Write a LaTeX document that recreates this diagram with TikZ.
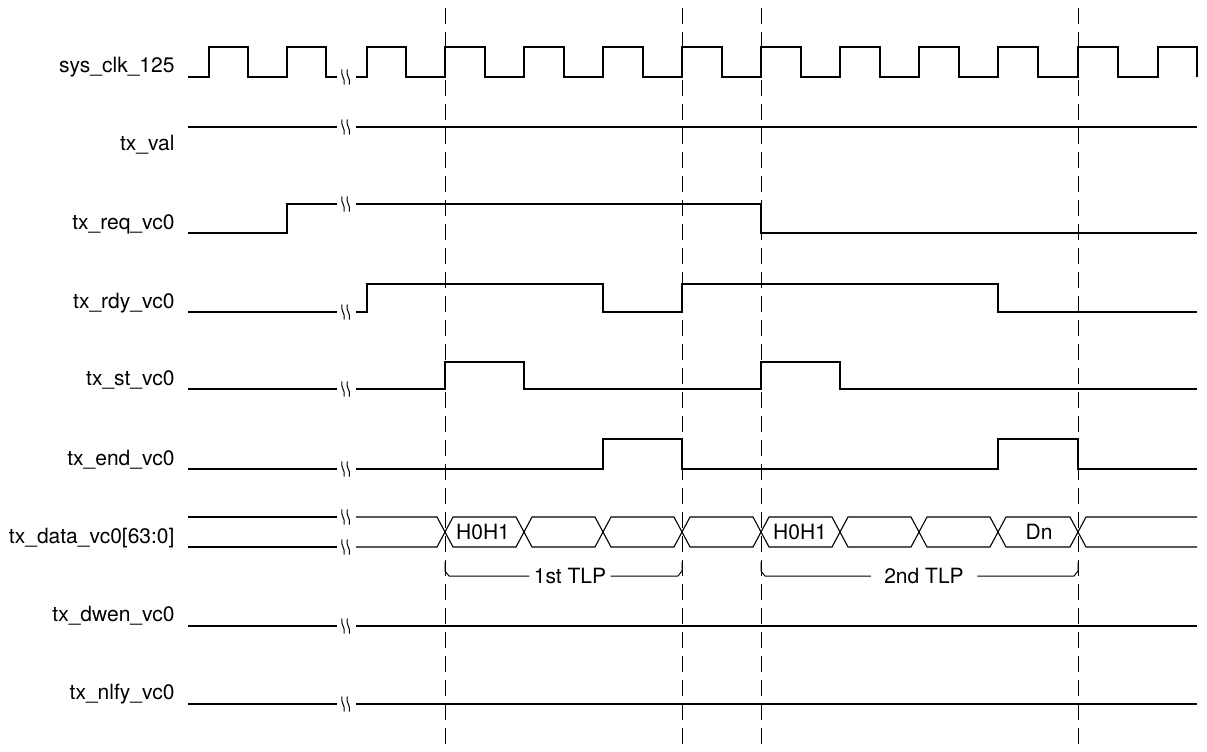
\documentclass[tikz,border=0pt]{standalone}
\usepackage{fontspec}
\setmainfont{TeX Gyre Heros}
\usepackage{tikz}
\usetikzlibrary{positioning}
\newcommand{\brkmark}[2]{%
\draw[line width=1pt] (#1-2,#2-7.5) .. controls (#1-3.8,#2-1) and (#1+1.8,#2+1) .. (#1,#2+7.5);
\draw[line width=1pt] (#1+3.3,#2-7.5) .. controls (#1+1.5,#2-1) and (#1+7.1,#2+1) .. (#1+5.3,#2+7.5);}
\begin{document}
\begin{tikzpicture}[x=1pt,y=-1pt,line width=1.1pt,
  lbl/.style={anchor=base east,inner sep=0pt,font=\fontsize{21}{24}\selectfont},
  txt/.style={inner sep=4pt,font=\fontsize{21}{24}\selectfont},
  cut/.style={dash pattern=on 16pt off 8pt,line width=0.9pt}]
\useasboundingbox (0,0) rectangle (1207,752);
\node[lbl] (lclk) at (175,73) {sys\_clk\_125};
\node[lbl] (lval) at (175,150) {tx\_val};
\node[lbl] (lreq) at (175,229) {tx\_req\_vc0};
\node[lbl] (lrdy) at (175,308) {tx\_rdy\_vc0};
\node[lbl] (lst) at (175,385) {tx\_st\_vc0};
\node[lbl] (lend) at (175,465) {tx\_end\_vc0};
\node[lbl] (ldata) at (175,543) {tx\_data\_vc0[63:0]};
\node[lbl] (ldwen) at (175,621) {tx\_dwen\_vc0};
\node[lbl] (lnlfy) at (175,699) {tx\_nlfy\_vc0};
\draw (188,77) -- (209,77) -- (209,47) -- (248,47) -- (248,77) -- (287,77) -- (287,47) -- (326,47) -- (326,77) -- (337,77);
\draw (356,77) -- (367,77) -- (367,47) -- (406,47) -- (406,77) -- (445,77) -- (445,47) -- (485,47) -- (485,77)
  -- (524,77) -- (524,47) -- (564,47) -- (564,77) -- (603,77) -- (603,47) -- (643,47) -- (643,77)
  -- (682,77) -- (682,47) -- (722,47) -- (722,77) -- (761,77) -- (761,47) -- (801,47) -- (801,77)
  -- (840,77) -- (840,47) -- (880,47) -- (880,77) -- (919,77) -- (919,47) -- (959,47) -- (959,77)
  -- (998,77) -- (998,47) -- (1038,47) -- (1038,77) -- (1078,77) -- (1078,47) -- (1118,47) -- (1118,77)
  -- (1158,77) -- (1158,47) -- (1197,47) -- (1197,77);
\draw (188,127) -- (337,127);
\draw (356,127) -- (1197,127);
\draw (188,233) -- (287,233) -- (287,204) -- (337,204);
\draw (356,204) -- (761,204) -- (761,233) -- (1197,233);
\draw (188,312) -- (337,312);
\draw (356,312) -- (367,312) -- (367,284) -- (603,284) -- (603,312) -- (682,312) -- (682,284) -- (998,284) -- (998,312) -- (1197,312);
\draw (188,389) -- (337,389);
\draw (356,389) -- (445,389) -- (445,362) -- (524,362) -- (524,389) -- (761,389) -- (761,362) -- (840,362) -- (840,389) -- (1197,389);
\draw (188,469) -- (337,469);
\draw (356,469) -- (603,469) -- (603,439) -- (682,439) -- (682,469) -- (998,469) -- (998,439) -- (1078,439) -- (1078,469) -- (1197,469);
\draw (188,517) -- (337,517);
\draw (188,547) -- (337,547);
\draw (356,517) -- (437,517) -- (453,547) -- (516,547) -- (532,517) -- (595,517) -- (611,547) -- (674,547) -- (690,517)
  -- (753,517) -- (769,547) -- (832,547) -- (848,517) -- (911,517) -- (927,547) -- (990,547) -- (1006,517)
  -- (1070,517) -- (1086,547) -- (1197,547);
\draw (356,547) -- (437,547) -- (453,517) -- (516,517) -- (532,547) -- (595,547) -- (611,517) -- (674,517) -- (690,547)
  -- (753,547) -- (769,517) -- (832,517) -- (848,547) -- (911,547) -- (927,517) -- (990,517) -- (1006,547)
  -- (1070,547) -- (1086,517) -- (1197,517);
\draw (188,626) -- (337,626);
\draw (356,626) -- (1197,626);
\draw (188,704) -- (337,704);
\draw (356,704) -- (1197,704);
\brkmark{344}{77}
\brkmark{344}{127}
\brkmark{344}{204}
\brkmark{344}{312}
\brkmark{344}{389}
\brkmark{344}{469}
\brkmark{344}{517}
\brkmark{344}{547}
\brkmark{344}{626}
\brkmark{344}{704}
\node[txt] (d1) at (483,532) {H0H1};
\node[txt] (d2) at (800,532) {H0H1};
\node[txt] (dn) at (1039,532) {Dn};
\draw[cut] (445,8) -- (445,745);
\draw[cut] (682,8) -- (682,745);
\draw[cut] (761,8) -- (761,745);
\draw[cut] (1078,8) -- (1078,745);
\node[txt] (tlp1) at (570,576) {1st TLP};
\node[txt,inner xsep=13pt] (tlp2) at (924,576) {2nd TLP};
\draw[line width=1pt] (445,562) -- (445,571) -- (449,576) -- (tlp1.west);
\draw[line width=1pt] (tlp1.east) -- (678,576) -- (682,571) -- (682,562);
\draw[line width=1pt] (761,562) -- (761,571) -- (765,576) -- (tlp2.west);
\draw[line width=1pt] (tlp2.east) -- (1074,576) -- (1078,571) -- (1078,562);
\end{tikzpicture}
\end{document}
